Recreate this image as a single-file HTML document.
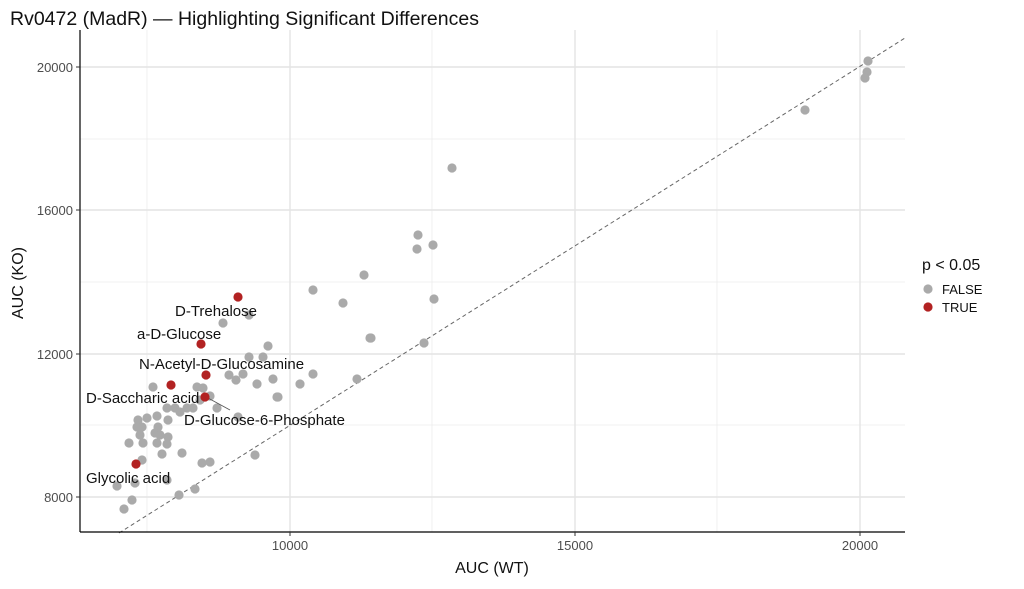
<!DOCTYPE html><html><head><style>body{margin:0;background:#fff}svg{font-family:"Liberation Sans",sans-serif}</style></head><body>
<svg width="1024" height="584" viewBox="0 0 1024 584">
<text x="10" y="25" font-size="19.5" fill="#111">Rv0472 (MadR) — Highlighting Significant Differences</text>
<g stroke="#ececec" stroke-width="0.8"><line x1="147" y1="30" x2="147" y2="532"/><line x1="432" y1="30" x2="432" y2="532"/><line x1="717" y1="30" x2="717" y2="532"/><line x1="80" y1="139" x2="905" y2="139"/><line x1="80" y1="282" x2="905" y2="282"/><line x1="80" y1="425" x2="905" y2="425"/></g>
<g stroke="#e4e4e4" stroke-width="1.4"><line x1="290" y1="30" x2="290" y2="532"/><line x1="575" y1="30" x2="575" y2="532"/><line x1="860" y1="30" x2="860" y2="532"/><line x1="80" y1="67" x2="905" y2="67"/><line x1="80" y1="210" x2="905" y2="210"/><line x1="80" y1="354" x2="905" y2="354"/><line x1="80" y1="497" x2="905" y2="497"/></g>
<line x1="119" y1="533" x2="905" y2="38" stroke="#666" stroke-dasharray="4,3" stroke-width="1"/>
<g fill="#aaaaaa">
<circle cx="868" cy="61" r="4.6"/><circle cx="867" cy="72" r="4.6"/><circle cx="865" cy="78" r="4.6"/><circle cx="805" cy="110" r="4.6"/><circle cx="452" cy="168" r="4.6"/><circle cx="418" cy="235" r="4.6"/><circle cx="433" cy="245" r="4.6"/><circle cx="417" cy="249" r="4.6"/><circle cx="364" cy="275" r="4.6"/><circle cx="313" cy="290" r="4.6"/><circle cx="343" cy="303" r="4.6"/><circle cx="434" cy="299" r="4.6"/><circle cx="371" cy="338" r="4.6"/><circle cx="424" cy="343" r="4.6"/><circle cx="357" cy="379" r="4.6"/><circle cx="313" cy="374" r="4.6"/><circle cx="300" cy="384" r="4.6"/><circle cx="277" cy="397" r="4.6"/><circle cx="370" cy="338" r="4.6"/><circle cx="255" cy="455" r="4.6"/><circle cx="202" cy="463" r="4.6"/><circle cx="210" cy="462" r="4.6"/>
<circle cx="223" cy="323" r="4.6"/><circle cx="249" cy="315" r="4.6"/><circle cx="268" cy="346" r="4.6"/><circle cx="249" cy="357" r="4.6"/><circle cx="263" cy="357" r="4.6"/><circle cx="229" cy="375" r="4.6"/><circle cx="236" cy="380" r="4.6"/><circle cx="243" cy="374" r="4.6"/><circle cx="257" cy="384" r="4.6"/><circle cx="273" cy="379" r="4.6"/><circle cx="278" cy="397" r="4.6"/><circle cx="153" cy="387" r="4.6"/><circle cx="197" cy="387" r="4.6"/><circle cx="203" cy="388" r="4.6"/><circle cx="167" cy="408" r="4.6"/><circle cx="175" cy="408" r="4.6"/><circle cx="180" cy="412" r="4.6"/><circle cx="187" cy="408" r="4.6"/><circle cx="193" cy="408" r="4.6"/><circle cx="217" cy="408" r="4.6"/><circle cx="238" cy="417" r="4.6"/><circle cx="138" cy="420" r="4.6"/><circle cx="147" cy="418" r="4.6"/><circle cx="157" cy="416" r="4.6"/><circle cx="137" cy="427" r="4.6"/><circle cx="142" cy="427" r="4.6"/><circle cx="158" cy="427" r="4.6"/><circle cx="168" cy="420" r="4.6"/><circle cx="140" cy="435" r="4.6"/><circle cx="155" cy="433" r="4.6"/><circle cx="160" cy="435" r="4.6"/><circle cx="168" cy="437" r="4.6"/><circle cx="143" cy="443" r="4.6"/><circle cx="157" cy="443" r="4.6"/><circle cx="167" cy="444" r="4.6"/><circle cx="129" cy="443" r="4.6"/><circle cx="162" cy="454" r="4.6"/><circle cx="182" cy="453" r="4.6"/><circle cx="142" cy="460" r="4.6"/><circle cx="117" cy="486" r="4.6"/><circle cx="135" cy="483" r="4.6"/><circle cx="132" cy="500" r="4.6"/><circle cx="124" cy="509" r="4.6"/><circle cx="195" cy="489" r="4.6"/><circle cx="179" cy="495" r="4.6"/><circle cx="167" cy="480" r="4.6"/><circle cx="200" cy="400" r="4.6"/><circle cx="210" cy="396" r="4.6"/>
</g>
<line x1="208" y1="398" x2="230" y2="410" stroke="#555" stroke-width="0.8"/>
<g fill="#b22222"><circle cx="238" cy="297" r="4.6"/><circle cx="201" cy="344" r="4.6"/><circle cx="206" cy="375" r="4.6"/><circle cx="171" cy="385" r="4.6"/><circle cx="136" cy="464" r="4.6"/><circle cx="205" cy="397" r="4.6"/></g>
<g font-size="15" fill="#111">
<text x="175" y="316">D-Trehalose</text><text x="137" y="339">a-D-Glucose</text><text x="139" y="369">N-Acetyl-D-Glucosamine</text><text x="86" y="403">D-Saccharic acid</text><text x="184" y="425">D-Glucose-6-Phosphate</text><text x="86" y="483">Glycolic acid</text>
</g>
<line x1="80" y1="30" x2="80" y2="532" stroke="#000" stroke-width="1.2"/><line x1="80" y1="532" x2="905" y2="532" stroke="#000" stroke-width="1.2"/>
<g stroke="#333"><line x1="76" y1="67" x2="80" y2="67"/><line x1="76" y1="210" x2="80" y2="210"/><line x1="76" y1="354" x2="80" y2="354"/><line x1="76" y1="497" x2="80" y2="497"/><line x1="290" y1="532" x2="290" y2="536"/><line x1="575" y1="532" x2="575" y2="536"/><line x1="860" y1="532" x2="860" y2="536"/></g>
<g font-size="13" fill="#4d4d4d" text-anchor="end"><text x="73" y="72">20000</text><text x="73" y="215">16000</text><text x="73" y="359">12000</text><text x="73" y="502">8000</text></g>
<g font-size="13" fill="#4d4d4d" text-anchor="middle"><text x="290" y="550">10000</text><text x="575" y="550">15000</text><text x="860" y="550">20000</text></g>
<text x="492" y="573" font-size="16" text-anchor="middle" fill="#111">AUC (WT)</text>
<text transform="translate(23,283) rotate(-90)" font-size="16" text-anchor="middle" fill="#111">AUC (KO)</text>
<text x="922" y="270" font-size="16" fill="#111">p &lt; 0.05</text>
<circle cx="928" cy="289" r="4.6" fill="#aaa"/><circle cx="928" cy="307" r="4.6" fill="#b22222"/>
<text x="942" y="294" font-size="13" fill="#111">FALSE</text><text x="942" y="312" font-size="13" fill="#111">TRUE</text>
</svg></body></html>
